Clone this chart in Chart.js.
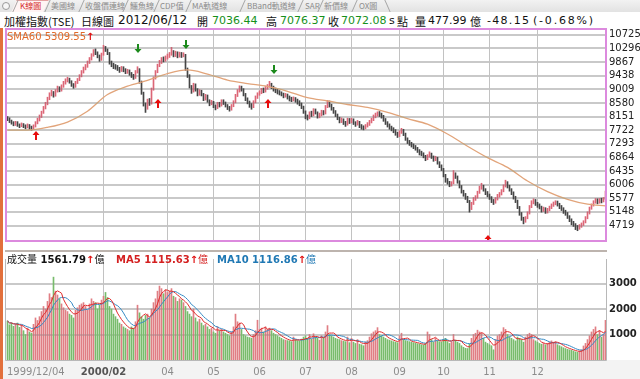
<!DOCTYPE html>
<html><head><meta charset="utf-8">
<script src="https://cdn.jsdelivr.net/npm/chart.js@4"></script>
<style>
html,body{margin:0;padding:0;background:#fff;}
body{width:640px;height:379px;position:relative;overflow:hidden;font-family:"DejaVu Sans",sans-serif;}
#tabs{position:absolute;left:0;top:0;width:640px;height:12px;background:linear-gradient(#f2f2f2,#e2e2e2);}
#circ{position:absolute;left:2px;top:2px;width:6px;height:6px;border:1px solid #9a9a9a;border-radius:50%;background:#f6f6f6;}
.sep{position:absolute;top:0;height:12px;width:0;border-left:1px solid #a4a4a4;transform:skewX(-24deg);}
.tbg{position:absolute;top:0;height:12px;background:#fff4f4;transform:skewX(-24deg);border-top:1px solid #e4a0a0;box-sizing:border-box;}
.tt{position:absolute;top:0;line-height:12px;font:8px "Noto Sans CJK TC",sans-serif;color:#8c8c8c;white-space:nowrap;}
.act{color:#d42828;}
.tl{position:absolute;top:13px;line-height:15px;height:15px;white-space:nowrap;font:11px "Noto Sans CJK TC",sans-serif;color:#111;}
.num{font:11px "DejaVu Sans",sans-serif;line-height:15px;}
.g{color:#16901a;}
#stripe{position:absolute;left:0;top:28px;width:3px;height:351px;background:#e2703c;}
canvas{position:absolute;left:0;}
.vl{position:absolute;top:251px;line-height:11px;white-space:nowrap;font:bold 10px "DejaVu Sans",sans-serif;}
.cjk{font:10px "Noto Sans CJK TC",sans-serif;}
.ar{color:#e01010;font-weight:bold;}
#sma{position:absolute;left:7px;top:31px;line-height:11px;font:10px "DejaVu Sans",sans-serif;color:#e06a2a;white-space:nowrap;}
</style></head>
<body>
<div id="tabs">
 <div id="circ"></div>
 <div class="tbg" style="left:14px;width:32px"></div>
 <i class="sep" style="left:15px"></i><span class="tt act" style="left:20px">K線圖</span>
 <i class="sep" style="left:47px"></i><span class="tt" style="left:51px">美國線</span>
 <i class="sep" style="left:81px"></i><span class="tt" style="left:85px">收盤價連線</span>
 <i class="sep" style="left:125px"></i><span class="tt" style="left:130px">鱷魚線</span>
 <i class="sep" style="left:156px"></i><span class="tt" style="left:160px">CDP值</span>
 <i class="sep" style="left:188px"></i><span class="tt" style="left:192px">MA軌道線</span>
 <i class="sep" style="left:242px"></i><span class="tt" style="left:247px">BBand軌道線</span>
 <i class="sep" style="left:300px"></i><span class="tt" style="left:305px">SAR</span>
 <i class="sep" style="left:320px"></i><span class="tt" style="left:324px">新價線</span>
 <i class="sep" style="left:354px"></i><span class="tt" style="left:359px">OX圖</span>
 <i class="sep" style="left:387px;transform:skewX(24deg)"></i>
</div>
<div class="tl" style="left:4px">加權指數(TSE)</div>
<div class="tl" style="left:81px">日線圖</div>
<div class="tl num" style="left:118px;font-size:12px">2012/06/12</div>
<div class="tl" style="left:197px">開</div>
<div class="tl num g" style="left:212px">7036.44</div>
<div class="tl" style="left:266px">高</div>
<div class="tl num g" style="left:280px">7076.37</div>
<div class="tl" style="left:328px">收</div>
<div class="tl num g" style="left:341px">7072.08</div>
<div class="tl num" style="left:389px">s</div>
<div class="tl" style="left:397px">點</div>
<div class="tl" style="left:415px">量</div>
<div class="tl num" style="left:428px">477.99</div>
<div class="tl" style="left:470px">億</div>
<div class="tl num" style="left:487px;letter-spacing:1.3px">-48.15</div>
<div class="tl num" style="left:533px;letter-spacing:1.8px">(-0.68%)</div>
<div id="stripe"></div>
<canvas id="price" width="640" height="250" style="top:0"></canvas>
<canvas id="vol" width="640" height="129" style="top:250px"></canvas>
<div id="sma">SMA60 5309.55<span class="ar">↑</span></div>
<div class="vl" style="left:7px;color:#111"><span class="cjk">成交量</span> 1561.79<span class="ar">↑</span><span class="cjk">億</span></div>
<div class="vl" style="left:116px;color:#d42020">MA5 1115.63<span class="ar">↑</span><span class="cjk">億</span></div>
<div class="vl" style="left:217px;color:#1f78b4">MA10 1116.86<span class="ar">↑</span><span class="cjk">億</span></div>
<script>
// ---------- data (daily bars, 1999/12/04 onward) ----------
const closes = [
8080,8000,7950,7900,7960,7880,7850,7900,7860,7820,
7870,7800,7780,7850,7950,8050,8150,8280,8420,8550,
8700,8850,8900,8820,8950,9050,8980,9100,9200,9280,
9320,9250,9150,9100,9220,9300,9420,9550,9650,9720,
9850,9950,10080,10200,10150,10050,9950,10100,10300,10250,
10150,9850,9780,9720,9700,9650,9600,9680,9620,9560,
9580,9500,9430,9380,9550,9650,9250,8900,8550,8400,
8650,8550,9000,9350,9550,9750,9850,9950,9920,10000,
10050,10100,10200,10080,10150,10050,10120,10060,10100,9650,
9450,9100,8950,9150,9000,8850,8950,8850,8700,8800,
8650,8550,8600,8480,8420,8550,8500,8620,8580,8500,
8420,8380,8480,8600,8800,8950,9050,9000,8850,8700,
8600,8500,8450,8600,8750,8850,8900,8980,8950,9050,
9100,9180,9080,9000,8950,8920,8880,8850,8800,8830,
8750,8700,8680,8720,8650,8600,8550,8450,8300,8150,
8100,8250,8200,8350,8280,8150,8200,8300,8250,8450,
8600,8500,8400,8300,8200,8100,8000,8050,7950,7900,
8050,7980,8050,7950,7900,7980,7850,7800,7780,7850,
7900,7980,8050,8150,8200,8250,8200,8150,8050,7950,
7880,7800,7750,7700,7620,7550,7650,7720,7600,7450,
7350,7300,7250,7200,7150,7080,7000,6980,6900,6820,
6900,6980,6880,6800,6850,6700,6600,6500,6300,6150,
6080,6000,6050,6300,6250,6100,5950,5800,5700,5600,
5500,5250,5400,5550,5600,5750,5900,5950,5850,5750,
5680,5600,5500,5450,5550,5650,5700,5800,5950,6050,
5950,5850,5750,5600,5500,5300,5100,4950,4850,4950,
5100,5300,5450,5500,5400,5350,5300,5200,5250,5150,
5200,5280,5350,5400,5450,5380,5300,5250,5150,5100,
5000,4900,4800,4750,4650,4620,4700,4750,4820,4950,
5100,5250,5350,5450,5500,5450,5520,5480,5550,5750];
const highs = [
8150,8110,8040,7990,8000,7990,7920,7950,7930,7890,
7920,7900,7850,7890,7990,8100,8200,8320,8470,8600,
8760,8900,8980,8940,9000,9110,9090,9150,9260,9340,
9390,9360,9280,9190,9260,9350,9470,9600,9710,9790,
9900,10010,10130,10260,10280,10190,10090,10150,10393,10360,
10280,10170,9900,9830,9790,9760,9700,9730,9720,9660,
9640,9620,9540,9480,9600,9720,9660,9270,8920,8580,
8700,8720,9050,9400,9600,9800,9920,10010,10030,10060,
10120,10170,10330,10230,10210,10190,10180,10170,10160,10110,
9680,9470,9130,9200,9180,9030,9000,8980,8880,8850,
8830,8680,8660,8630,8520,8600,8600,8680,8680,8610,
8530,8470,8530,8650,8850,9000,9120,9110,9030,8880,
8740,8640,8560,8650,8800,8900,8960,9040,9050,9100,
9160,9260,9200,9110,9050,9010,8970,8930,8890,8880,
8860,8800,8760,8770,8750,8700,8650,8580,8480,8330,
8200,8300,8320,8400,8390,8300,8260,8350,8340,8500,
8660,8640,8540,8440,8340,8230,8130,8110,8080,8000,
8100,8090,8100,8080,7990,8030,8000,7900,7860,7900,
7960,8030,8100,8200,8260,8300,8310,8260,8190,8090,
7990,7920,7850,7800,7740,7660,7700,7780,7750,7630,
7480,7400,7340,7290,7240,7180,7110,7060,7010,6930,
6950,7040,7000,6910,6900,6870,6730,6630,6520,6330,
6200,6110,6100,6450,6380,6280,6130,5980,5830,5730,
5640,5510,5450,5600,5660,5800,5960,6050,5990,5880,
5790,5710,5630,5540,5600,5700,5760,5850,6000,6146,
6100,5990,5880,5780,5640,5520,5320,5130,4980,5000,
5150,5350,5500,5560,5540,5450,5400,5330,5300,5280,
5260,5330,5400,5460,5500,5490,5420,5350,5280,5200,
5130,5030,4930,4850,4780,4720,4750,4800,4870,5000,
5150,5300,5400,5500,5570,5560,5570,5580,5600,5800];
const lows = [
8020,7960,7910,7860,7870,7840,7800,7830,7800,7760,
7790,7750,7720,7740,7820,7920,8010,8120,8250,8390,
8520,8680,8800,8760,8790,8920,8930,8950,9070,9170,
9240,9200,9100,9040,9070,9190,9280,9400,9520,9620,
9700,9820,9930,10050,10100,10000,9890,9920,10080,10200,
10100,9800,9720,9660,9640,9600,9540,9570,9560,9500,
9510,9450,9380,9320,9350,9520,9200,8850,8480,8280,
8380,8500,8540,8980,9330,9530,9720,9820,9870,9890,
9960,10010,10080,10030,10040,10000,10020,10010,10030,9600,
9380,9050,8880,8920,8950,8800,8820,8800,8650,8670,
8600,8490,8520,8430,8360,8400,8450,8480,8530,8450,
8370,8320,8350,8460,8580,8780,8920,8950,8800,8650,
8550,8440,8380,8430,8580,8720,8820,8870,8900,8920,
9010,9070,9030,8950,8900,8860,8830,8800,8740,8760,
8700,8640,8620,8640,8600,8540,8490,8400,8250,8080,
8040,8080,8150,8170,8230,8100,8110,8170,8200,8230,
8430,8450,8350,8250,8150,8050,7950,7960,7900,7840,
7880,7930,7950,7900,7840,7880,7800,7750,7730,7760,
7820,7870,7950,8020,8110,8160,8150,8100,8000,7900,
7820,7750,7700,7640,7560,7490,7520,7620,7550,7400,
7300,7240,7190,7140,7090,7020,6940,6920,6850,6760,
6790,6870,6830,6740,6760,6650,6540,6450,6250,6080,
6020,5940,5960,6030,6200,6050,5900,5740,5640,5540,
5440,5140,5220,5380,5510,5580,5730,5860,5800,5690,
5620,5540,5440,5380,5420,5520,5610,5680,5780,5930,
5900,5800,5690,5550,5440,5250,5040,4880,4770,4820,
4930,5080,5280,5400,5350,5290,5240,5140,5160,5100,
5110,5180,5250,5320,5370,5330,5250,5190,5100,5040,
4940,4840,4740,4690,4590,4555,4600,4660,4720,4800,
4930,5080,5230,5330,5420,5400,5420,5430,5460,5530];
const volumes = [
1530,1380,1450,1320,1400,1450,1280,1360,1150,1000,
1250,1100,1050,1400,1650,1550,1700,1900,2100,2000,
2300,2600,2450,3250,2700,2550,2400,2200,2050,1950,
1900,1800,1750,1650,1950,2050,2150,2200,2250,2100,
1950,2200,2400,2300,2250,2000,2150,2350,2500,2650,
2450,2100,2000,1800,1700,1600,1450,1400,1300,1250,
1200,1150,1300,1250,1500,2150,1850,1700,1600,1750,
1800,1650,2000,2250,2400,2700,2900,2800,2600,2750,
2650,2700,2800,2500,2450,2300,2400,2350,2250,2100,
1900,1800,1700,2000,1650,1500,1600,1450,1350,1400,
1300,1200,1250,1100,1050,1300,1150,1200,1100,1050,
1000,950,1100,1300,1800,1500,1450,1200,1000,950,
900,880,850,1000,1150,1560,1200,1250,1100,1300,
1200,1250,1150,1050,1000,950,900,850,800,780,
760,750,720,900,800,760,740,820,900,950,
850,1000,820,1030,900,850,780,950,880,1100,
1350,1000,950,900,850,820,800,760,740,720,
900,680,850,700,650,800,620,600,560,700,
760,900,1030,1100,1150,1270,1000,950,900,850,
800,780,750,720,700,680,950,1050,800,760,
740,720,700,680,660,640,620,600,580,650,
1100,1000,800,700,850,750,720,700,800,850,
720,650,700,1000,780,700,650,560,500,460,
450,620,850,1000,1050,1170,1100,1050,850,700,
650,600,560,400,800,950,1000,1100,1270,1200,
1000,900,850,800,750,900,850,800,700,900,
1000,1050,1000,800,750,700,650,620,650,600,
650,700,750,700,720,600,560,520,480,450,
420,400,380,350,320,300,350,400,550,650,
800,950,1100,1200,1300,1000,1150,900,1000,1560];
const smaIdx = [0,10,20,30,40,50,60,70,80,90,100,110,120,130,140,150,160,170,180,190,200,210,220,230,240,250,260,270,280,290,299];
const smaVal = [7724,7724,7810,7978,8320,8845,9110,9290,9504,9620,9490,9300,9190,9100,8945,8745,8640,8530,8438,8285,8082,7910,7600,7214,6855,6548,6121,5786,5542,5390,5340];
// signals
const buyIdx = [14,75,130,240], buyVal = [7524,8560,8560,4250];
const sellIdx = [65,89,133], sellVal = [10298,10420,9658];
// axes
const monthIdx = [48,80,103,126,149,172,196,218,241,265];
const monthLabels = ['2000/02','04','05','06','07','08','09','10','11','12'];
const firstLabel = '1999/12/04';
const priceTicks = [4719,5148,5577,6006,6435,6864,7293,7722,8151,8580,9009,9438,9867,10296,10725];
const volTicks = [1000,2000,3000];

// ---------- helpers ----------
function ma(arr,n){return arr.map((_,i)=>{const s=Math.max(0,i-n+1);let t=0;for(let k=s;k<=i;k++)t+=arr[k];return t/(i-s+1);});}
const isUp = closes.map((c,i)=> i>0 && c>=closes[i-1]);
const XMIN=-0.75, XMAX=299.25;

function drawArrow(ctx,cx,cy,up){
  ctx.fillStyle = up?'#e80c0c':'#1c8a1c';
  ctx.beginPath();
  if(up){ctx.moveTo(cx,cy-5);ctx.lineTo(cx+3.5,cy-1);ctx.lineTo(cx-3.5,cy-1);}
  else {ctx.moveTo(cx,cy+5);ctx.lineTo(cx+3.5,cy+1);ctx.lineTo(cx-3.5,cy+1);}
  ctx.closePath();ctx.fill();
  ctx.fillRect(cx-1, up?cy-1:cy-4, 2, 5);
}
// horizontal grid drawn with 'darken' so it reads as lying behind the marks
function hGrid(chart, ticks){
  const ctx=chart.ctx, a=chart.chartArea, y=chart.scales.y;
  ctx.save();
  ctx.globalCompositeOperation='darken';
  ctx.strokeStyle='#c9c9c9';ctx.lineWidth=2;
  ticks.forEach(v=>{
    const py=Math.round(y.getPixelForValue(v));
    ctx.beginPath();ctx.moveTo(a.left,py);ctx.lineTo(a.right,py);ctx.stroke();
  });
  ctx.restore();
}

const priceFrame = {
  id:'priceFrame',
  afterDatasetsDraw(chart){
    const {ctx,chartArea:a,scales:{x,y}}=chart;
    hGrid(chart, priceTicks);
    ctx.save();
    ctx.beginPath();ctx.rect(a.left,a.top,a.right-a.left,a.bottom-a.top);ctx.clip();
    buyIdx.forEach((v,k)=>drawArrow(ctx,Math.round(x.getPixelForValue(v)),Math.round(y.getPixelForValue(buyVal[k])),true));
    sellIdx.forEach((v,k)=>drawArrow(ctx,Math.round(x.getPixelForValue(v)),Math.round(y.getPixelForValue(sellVal[k])),false));
    ctx.restore();
  },
  afterDraw(chart){
    const {ctx,chartArea:a}=chart;
    ctx.save();
    ctx.strokeStyle='#dc8ade';ctx.lineWidth=2;
    ctx.strokeRect(a.left,a.top,a.right-a.left,a.bottom-a.top);
    ctx.restore();
  }
};

new Chart(document.getElementById('price'),{
  data:{datasets:[
    {type:'line',data:smaIdx.map((v,k)=>({x:v,y:smaVal[k]})),borderColor:'#e2a47a',borderWidth:1.3,pointRadius:0,cubicInterpolationMode:'monotone',fill:false,order:1},
    {type:'bar',data:closes.map((c,i)=>({x:i,y:[lows[i],highs[i]]})),backgroundColor:isUp.map(u=>u?'#dc6676':'#454545'),barThickness:1,grouped:false,order:2}
  ]},
  options:{
    responsive:false,animation:false,devicePixelRatio:1,
    layout:{padding:{left:6,top:29,right:0,bottom:2}},
    plugins:{legend:{display:false},tooltip:{enabled:false}},
    scales:{
      x:{type:'linear',min:XMIN,max:XMAX,offset:false,
         afterBuildTicks(s){s.ticks=monthIdx.map(v=>({value:v}));},
         ticks:{display:false},grid:{color:'#c2c2c2',drawTicks:false,offset:false},border:{display:false},
         afterFit(s){s.height=0;}},
      y:{position:'right',min:4231,max:10908,
         afterBuildTicks(s){s.ticks=priceTicks.map(v=>({value:v}));},
         ticks:{font:{family:'DejaVu Sans',size:10},color:'#222',padding:3,callback:v=>String(v)},
         grid:{display:false,drawTicks:false},border:{display:false},
         afterFit(s){s.width=34;}}
    }
  },
  plugins:[priceFrame]
});

const ma5 = ma(volumes,5), ma10 = ma(volumes,10);
const volFrame = {
  id:'volFrame',
  afterDatasetsDraw(chart){ hGrid(chart, volTicks); },
  afterDraw(chart){
    const {ctx,chartArea:a,scales:{x},width,height}=chart;
    ctx.save();
    ctx.fillStyle='#f3f3f3';ctx.fillRect(3,a.bottom,width-3,height-a.bottom);
    ctx.strokeStyle='#b8b8b8';ctx.lineWidth=1;
    ctx.beginPath();
    ctx.moveTo(a.left-0.5,a.top);ctx.lineTo(a.left-0.5,a.bottom+0.5);
    ctx.lineTo(a.right+0.5,a.bottom+0.5);ctx.lineTo(a.right+0.5,a.top);
    ctx.stroke();
    ctx.fillStyle='#bdb4ae';ctx.fillRect(a.left-1,0,a.right-a.left+2,2);
    ctx.textBaseline='middle';
    ctx.font='10px "DejaVu Sans"';ctx.fillStyle='#8c8c8c';ctx.textAlign='left';
    ctx.fillText(firstLabel,a.left+1,122);
    monthIdx.forEach((v,k)=>{
      const px=x.getPixelForValue(v);
      if(k===0){ctx.font='bold 10px "DejaVu Sans"';ctx.fillStyle='#555';}
      else {ctx.font='10px "DejaVu Sans"';ctx.fillStyle='#8c8c8c';}
      ctx.textAlign='center';ctx.fillText(monthLabels[k],px,122);
    });
    ctx.restore();
  }
};

new Chart(document.getElementById('vol'),{
  data:{datasets:[
    {type:'line',data:ma10.map((v,i)=>({x:i,y:v})),borderColor:'#3389c4',borderWidth:1,pointRadius:0,fill:false,order:1},
    {type:'line',data:ma5.map((v,i)=>({x:i,y:v})),borderColor:'#e02a2a',borderWidth:1,pointRadius:0,fill:false,order:0},
    {type:'bar',data:volumes.map((v,i)=>({x:i,y:v})),backgroundColor:isUp.map(u=>u?'#e07e84':'#78bb6c'),barThickness:1,grouped:false,order:3}
  ]},
  options:{
    responsive:false,animation:false,devicePixelRatio:1,
    layout:{padding:{left:6,top:0,right:0,bottom:0}},
    plugins:{legend:{display:false},tooltip:{enabled:false}},
    scales:{
      x:{type:'linear',min:XMIN,max:XMAX,offset:false,
         afterBuildTicks(s){s.ticks=monthIdx.map(v=>({value:v}));},
         ticks:{display:false},grid:{color:'#c2c2c2',drawTicks:false,offset:false},border:{display:false},
         afterFit(s){s.height=19;}},
      y:{position:'right',min:0,max:3961.5,
         afterBuildTicks(s){s.ticks=volTicks.map(v=>({value:v}));},
         ticks:{font:{family:'DejaVu Sans',size:10,weight:'bold'},color:'#222',padding:3,callback:v=>String(v)},
         grid:{display:false,drawTicks:false},border:{display:false},
         afterFit(s){s.width=34;}}
    }
  },
  plugins:[volFrame]
});
</script>
</body></html>
